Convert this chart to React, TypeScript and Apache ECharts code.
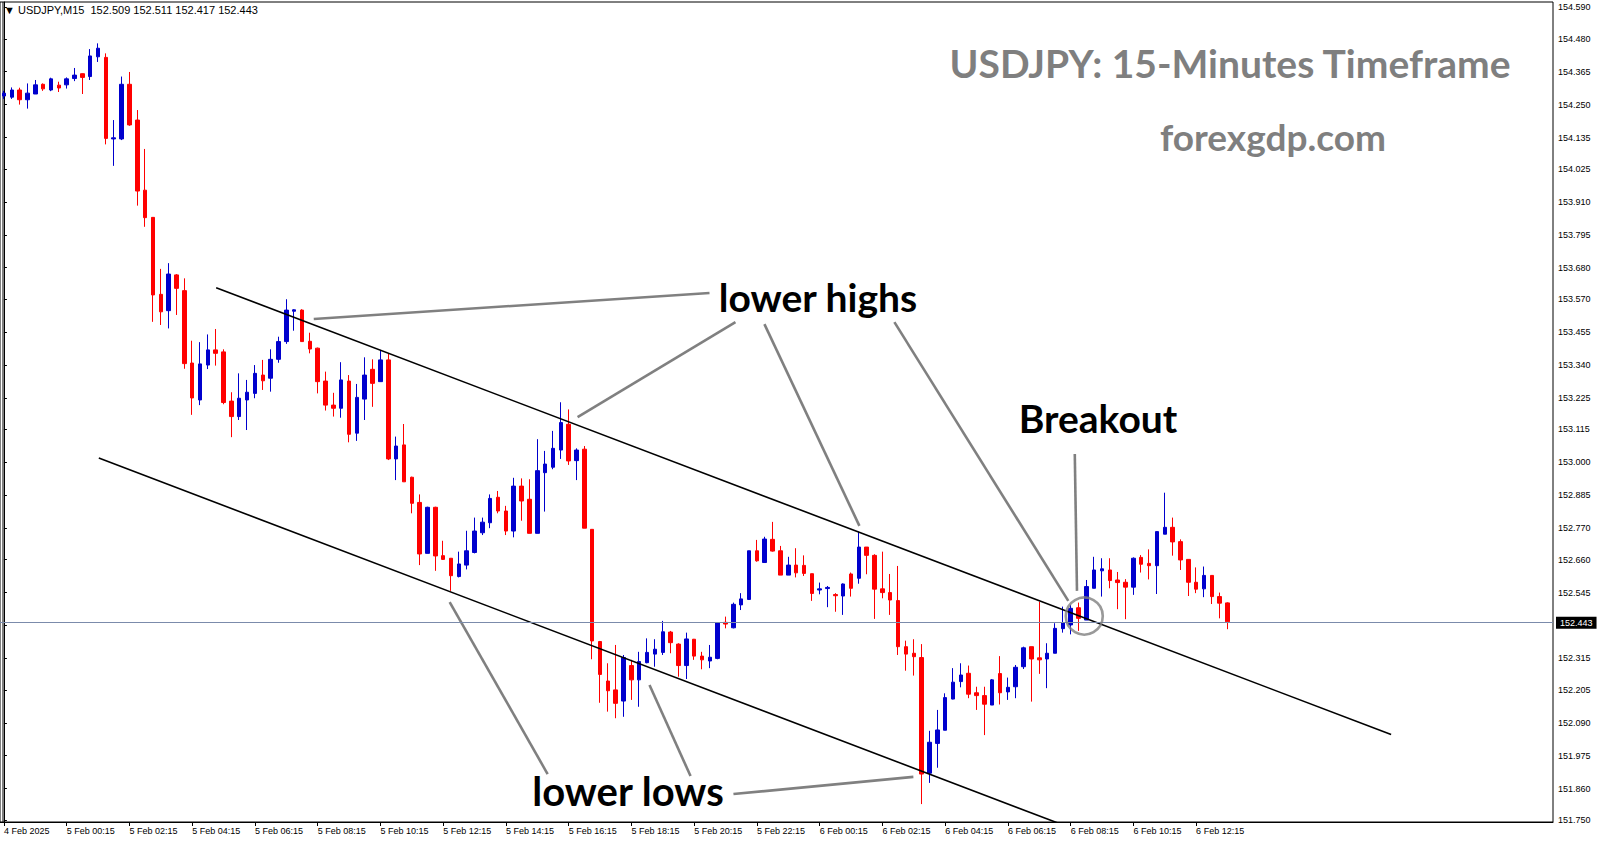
import React, { useEffect, useRef } from "react";
import * as echarts from "echarts";

const SLOT_COUNT = 198;
const TICK_STEP = 8;
const PRICE_MIN = 151.7434;
const PRICE_MAX = 154.6085;
const LAST_PRICE = 152.443;
const HEADER = "\u25BC USDJPY,M15  152.509 152.511 152.417 152.443";

const xTickLabels = [
  "4 Feb 2025", "5 Feb 00:15", "5 Feb 02:15", "5 Feb 04:15", "5 Feb 06:15", "5 Feb 08:15",
  "5 Feb 10:15", "5 Feb 12:15", "5 Feb 14:15", "5 Feb 16:15", "5 Feb 18:15", "5 Feb 20:15",
  "5 Feb 22:15", "6 Feb 00:15", "6 Feb 02:15", "6 Feb 04:15", "6 Feb 06:15", "6 Feb 08:15",
  "6 Feb 10:15", "6 Feb 12:15",
];

const yTickLabels = [
  "154.590", "154.480", "154.365", "154.250", "154.135", "154.025", "153.910", "153.795",
  "153.680", "153.570", "153.455", "153.340", "153.225", "153.115", "153.000", "152.885",
  "152.770", "152.660", "152.545", "152.430", "152.315", "152.205", "152.090", "151.975",
  "151.860", "151.750",
];

const open = [
  154.280, 154.276, 154.301, 154.267, 154.287, 154.321, 154.301, 154.318, 154.319, 154.341,
  154.358, 154.348, 154.417, 154.415, 154.130, 154.130, 154.321, 154.196, 153.951, 153.856,
  153.587, 153.530, 153.655, 153.600, 153.347, 153.218, 153.340, 153.393, 153.386, 153.214,
  153.160, 153.218, 153.241, 153.305, 153.294, 153.360, 153.422, 153.528, 153.532, 153.423,
  153.399, 153.284, 153.200, 153.189, 153.284, 153.102, 153.221, 153.325, 153.282, 153.358,
  153.012, 153.061, 152.948, 152.860, 152.682, 152.843, 152.674, 152.665, 152.601, 152.641,
  152.685, 152.754, 152.789, 152.878, 152.830, 152.760, 152.917, 152.871, 152.752, 152.964,
  152.983, 153.043, 153.133, 153.006, 153.046, 152.766, 152.374, 152.236, 152.205, 152.166,
  152.290, 152.240, 152.300, 152.330, 152.336, 152.407, 152.365, 152.290, 152.382, 152.323,
  152.306, 152.315, 152.441, 152.422, 152.502, 152.521, 152.691, 152.650, 152.731, 152.691,
  152.606, 152.641, 152.640, 152.611, 152.554, 152.559, 152.538, 152.533, 152.610, 152.595,
  152.704, 152.675, 152.558, 152.545, 152.517, 152.356, 152.333, 152.318, 151.914, 152.018,
  152.064, 152.173, 152.234, 152.263, 152.195, 152.185, 152.152, 152.262, 152.198, 152.216,
  152.286, 152.356, 152.317, 152.313, 152.333, 152.419, 152.432, 152.492, 152.449, 152.560,
  152.621, 152.624, 152.589, 152.581, 152.564, 152.668, 152.647, 152.639, 152.749, 152.773,
  152.723, 152.661, 152.581, 152.558, 152.605, 152.531, 152.509,
];
const high = [
  154.298, 154.310, 154.309, 154.324, 154.336, 154.324, 154.344, 154.330, 154.345, 154.378,
  154.359, 154.444, 154.464, 154.429, 154.196, 154.348, 154.364, 154.231, 154.095, 153.856,
  153.676, 153.696, 153.658, 153.643, 153.425, 153.420, 153.447, 153.466, 153.395, 153.245,
  153.311, 153.288, 153.340, 153.358, 153.395, 153.439, 153.570, 153.535, 153.535, 153.453,
  153.401, 153.317, 153.243, 153.350, 153.305, 153.274, 153.367, 153.360, 153.393, 153.381,
  153.090, 153.134, 152.950, 152.888, 152.845, 152.845, 152.726, 152.665, 152.688, 152.761,
  152.807, 152.807, 152.888, 152.900, 152.848, 152.946, 152.944, 152.941, 153.081, 153.040,
  153.110, 153.210, 153.185, 153.049, 153.057, 152.766, 152.376, 152.298, 152.362, 152.327,
  152.310, 152.338, 152.385, 152.382, 152.446, 152.411, 152.368, 152.405, 152.383, 152.338,
  152.362, 152.441, 152.461, 152.510, 152.543, 152.691, 152.729, 152.740, 152.792, 152.708,
  152.670, 152.700, 152.675, 152.611, 152.580, 152.568, 152.543, 152.577, 152.615, 152.758,
  152.704, 152.679, 152.688, 152.610, 152.638, 152.377, 152.382, 152.365, 152.062, 152.135,
  152.193, 152.281, 152.298, 152.290, 152.216, 152.216, 152.243, 152.323, 152.248, 152.292,
  152.356, 152.356, 152.513, 152.368, 152.438, 152.496, 152.502, 152.510, 152.589, 152.670,
  152.665, 152.665, 152.617, 152.592, 152.668, 152.676, 152.696, 152.758, 152.894, 152.807,
  152.731, 152.661, 152.633, 152.636, 152.605, 152.545, 152.511,
];
const low = [
  154.270, 154.270, 154.250, 154.236, 154.287, 154.298, 154.297, 154.294, 154.306, 154.332,
  154.287, 154.336, 154.399, 154.111, 154.036, 154.126, 154.176, 153.897, 153.823, 153.491,
  153.480, 153.468, 153.515, 153.327, 153.166, 153.200, 153.326, 153.338, 153.203, 153.088,
  153.148, 153.113, 153.224, 153.253, 153.247, 153.348, 153.414, 153.460, 153.422, 153.381,
  153.241, 153.181, 153.160, 153.156, 153.070, 153.075, 153.148, 153.194, 153.282, 153.008,
  152.938, 152.932, 152.822, 152.641, 152.682, 152.621, 152.659, 152.551, 152.598, 152.626,
  152.682, 152.746, 152.770, 152.822, 152.746, 152.738, 152.796, 152.752, 152.752, 152.828,
  152.976, 153.012, 152.991, 152.938, 152.770, 152.312, 152.160, 152.129, 152.106, 152.111,
  152.170, 152.146, 152.298, 152.286, 152.327, 152.333, 152.251, 152.243, 152.310, 152.277,
  152.281, 152.312, 152.420, 152.420, 152.484, 152.519, 152.653, 152.650, 152.688, 152.606,
  152.606, 152.598, 152.603, 152.516, 152.539, 152.494, 152.478, 152.467, 152.531, 152.576,
  152.609, 152.453, 152.525, 152.467, 152.327, 152.272, 152.255, 151.806, 151.880, 151.933,
  152.064, 152.172, 152.214, 152.176, 152.135, 152.047, 152.152, 152.154, 152.170, 152.176,
  152.278, 152.164, 152.261, 152.211, 152.333, 152.405, 152.399, 152.411, 152.449, 152.560,
  152.531, 152.560, 152.487, 152.452, 152.537, 152.615, 152.591, 152.540, 152.749, 152.674,
  152.624, 152.533, 152.543, 152.529, 152.505, 152.455, 152.417,
];
const close = [
  154.290, 154.301, 154.267, 154.290, 154.319, 154.305, 154.340, 154.308, 154.340, 154.353,
  154.345, 154.420, 154.447, 154.132, 154.134, 154.321, 154.179, 153.948, 153.855, 153.585,
  153.526, 153.658, 153.608, 153.345, 153.225, 153.344, 153.393, 153.381, 153.209, 153.160,
  153.224, 153.245, 153.311, 153.285, 153.360, 153.422, 153.532, 153.533, 153.422, 153.396,
  153.282, 153.200, 153.189, 153.288, 153.098, 153.227, 153.305, 153.276, 153.358, 153.012,
  153.057, 152.932, 152.857, 152.680, 152.843, 152.673, 152.661, 152.604, 152.645, 152.691,
  152.760, 152.791, 152.874, 152.830, 152.760, 152.917, 152.865, 152.752, 152.971, 152.994,
  153.049, 153.139, 153.005, 153.043, 152.770, 152.376, 152.259, 152.202, 152.158, 152.318,
  152.240, 152.304, 152.336, 152.347, 152.408, 152.370, 152.290, 152.383, 152.323, 152.310,
  152.319, 152.440, 152.435, 152.504, 152.523, 152.691, 152.656, 152.732, 152.690, 152.606,
  152.641, 152.614, 152.612, 152.542, 152.558, 152.563, 152.534, 152.575, 152.560, 152.704,
  152.675, 152.557, 152.545, 152.519, 152.356, 152.330, 152.321, 151.911, 152.022, 152.065,
  152.178, 152.232, 152.257, 152.190, 152.185, 152.155, 152.240, 152.195, 152.214, 152.284,
  152.352, 152.313, 152.310, 152.333, 152.420, 152.440, 152.490, 152.455, 152.566, 152.624,
  152.628, 152.587, 152.580, 152.564, 152.665, 152.644, 152.639, 152.758, 152.773, 152.722,
  152.659, 152.581, 152.557, 152.605, 152.531, 152.508, 152.443,
];

// channel lines: [bar index, price]
const upperChannel = [[27.06, 153.610], [176.86, 152.049]];
const lowerChannel = [[12.10, 153.015], [136.0, 151.723]];

// pointer lines from the annotations: [bar index, price]
const pointerSegments = [
  [[39.5, 153.501], [89.96, 153.592]],
  [[73.14, 153.158], [93.27, 153.490]],
  [[96.96, 153.483], [109.07, 152.778]],
  [[113.53, 153.490], [135.7, 152.516]],
  [[136.53, 153.029], [136.81, 152.551]],
  [[56.83, 152.512], [69.32, 151.911]],
  [[82.31, 152.222], [87.54, 151.904]],
  [[93.01, 151.841], [115.95, 151.901]],
];
const breakoutPoint = [[137.74, 152.463]];

const GRAY = "#808080";
const AXIS_FONT = "Liberation Sans";

function buildOption() {
  const slots = Array.from({ length: SLOT_COUNT }, (_, i) => String(i));
  const candles = open.map((o, i) => [o, close[i], low[i], high[i]]);
  const yTickValues = yTickLabels.map((s) => parseFloat(s));
  const showTick = (i: number) => i % TICK_STEP === 0 && i / TICK_STEP < xTickLabels.length;

  const lineSeries = (data: number[][], color: string, width: number) => ({
    type: "line",
    xAxisIndex: 1,
    yAxisIndex: 0,
    data,
    symbol: "none",
    silent: true,
    clip: true,
    z: 4,
    lineStyle: { color, width, type: "solid" },
  });

  const bigText = (text: string, x: number, y: number, color: string, size: number) => ({
    type: "text",
    x,
    y,
    silent: true,
    z: 10,
    style: {
      text,
      fill: color,
      font: `bold ${size}px Lato`,
      align: "center",
      verticalAlign: "middle",
      textAlign: "center",
      textVerticalAlign: "middle",
    },
  });

  return {
    animation: false,
    backgroundColor: "#ffffff",
    grid: {
      left: -0.9,
      right: 47,
      top: 2,
      bottom: 23,
      show: true,
      borderColor: "#000",
      borderWidth: 1,
      backgroundColor: "transparent",
      containLabel: false,
    },
    xAxis: [
      {
        type: "category",
        data: slots,
        boundaryGap: true,
        axisLine: { show: true, lineStyle: { color: "#000", width: 1 } },
        axisTick: {
          show: true,
          interval: (i: number) => showTick(i),
          alignWithLabel: true,
          length: 4,
          lineStyle: { color: "#000" },
        },
        axisLabel: {
          interval: (i: number) => showTick(i),
          formatter: (_v: string, i: number) => xTickLabels[i / TICK_STEP] ?? "",
          align: "left",
          margin: 4,
          color: "#000",
          fontSize: 9,
          fontFamily: AXIS_FONT,
        },
        splitLine: { show: false },
      },
      { type: "value", min: -0.5, max: SLOT_COUNT - 0.5, show: false },
    ],
    yAxis: [
      {
        type: "value",
        position: "right",
        min: PRICE_MIN,
        max: PRICE_MAX,
        scale: true,
        splitLine: { show: false },
        axisLine: { show: true, lineStyle: { color: "#000" } },
        axisTick: { show: true, customValues: yTickValues, length: 3, lineStyle: { color: "#000" } },
        axisLabel: {
          customValues: yTickValues,
          formatter: (v: number) => v.toFixed(3),
          margin: 5,
          color: "#000",
          fontSize: 9,
          fontFamily: AXIS_FONT,
        },
      },
    ],
    series: [
      {
        type: "candlestick",
        xAxisIndex: 0,
        yAxisIndex: 0,
        data: candles,
        barWidth: 4,
        silent: true,
        itemStyle: {
          color: "#0000CD",
          color0: "#FF0000",
          borderColor: "#0000CD",
          borderColor0: "#FF0000",
          borderWidth: 1,
        },
        markLine: {
          silent: true,
          symbol: "none",
          animation: false,
          lineStyle: { color: "#7b8bab", width: 1, type: "solid" },
          label: {
            show: true,
            position: "end",
            distance: 3,
            formatter: LAST_PRICE.toFixed(3),
            color: "#fff",
            backgroundColor: "#000",
            padding: [2, 4, 1, 4],
            fontSize: 9,
            fontFamily: AXIS_FONT,
          },
          data: [{ yAxis: LAST_PRICE }],
        },
      },
      lineSeries(upperChannel, "#000", 1.6),
      lineSeries(lowerChannel, "#000", 1.6),
      ...pointerSegments.map((seg) => lineSeries(seg, GRAY, 2.6)),
      {
        type: "scatter",
        xAxisIndex: 1,
        yAxisIndex: 0,
        data: breakoutPoint,
        symbol: "circle",
        symbolSize: 37,
        silent: true,
        z: 5,
        itemStyle: { color: "rgba(0,0,0,0)", borderColor: GRAY, borderWidth: 2.6 },
      },
    ],
    graphic: [
      {
        type: "line",
        silent: true,
        shape: { x1: 3, y1: 2, x2: 3, y2: 822 },
        style: { stroke: "#000", lineWidth: 1 },
      },
      {
        type: "text",
        x: 4,
        y: 10,
        silent: true,
        style: {
          text: HEADER,
          fill: "#000",
          font: `11px ${AXIS_FONT}`,
          align: "left",
          verticalAlign: "middle",
          textAlign: "left",
          textVerticalAlign: "middle",
        },
      },
      bigText("USDJPY: 15-Minutes Timeframe", 1230, 63, "#7f7f7f", 39),
      bigText("forexgdp.com", 1273, 136, "#7f7f7f", 37),
      bigText("lower highs", 818, 297, "#000", 39),
      bigText("Breakout", 1098, 418, "#000", 39),
      bigText("lower lows", 628, 791, "#000", 40),
    ],
  };
}

export default function App() {
  const ref = useRef<HTMLDivElement>(null);
  useEffect(() => {
    if (!ref.current) return;
    const chart = echarts.init(ref.current, null, { renderer: "svg" });
    chart.setOption(buildOption() as any);
    return () => chart.dispose();
  }, []);
  return (
    <div
      ref={ref}
      style={{ position: "absolute", left: 0, top: 0, width: 1600, height: 845, background: "#fff" }}
    />
  );
}
